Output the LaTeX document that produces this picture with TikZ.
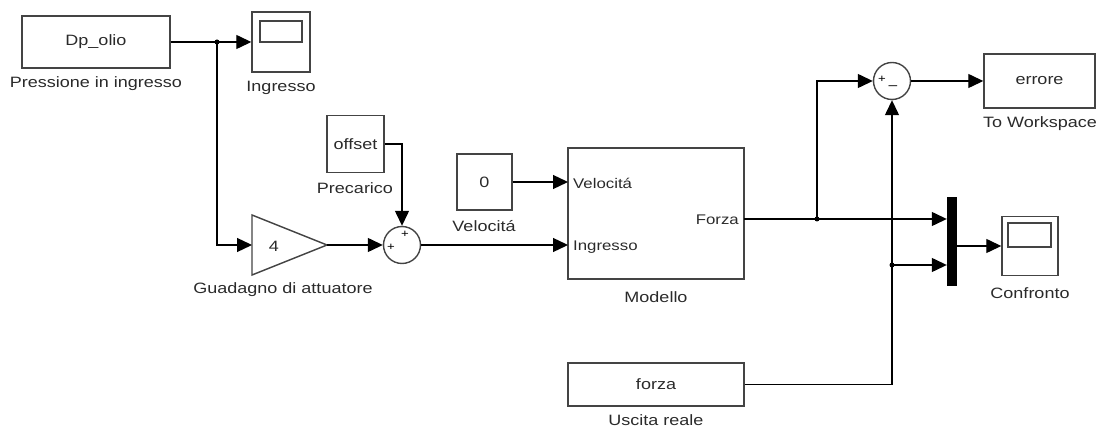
\documentclass[tikz,border=0pt]{standalone}
\usepackage{fontspec}
\setmainfont{Liberation Sans}[FakeStretch=1.2]
\usetikzlibrary{arrows.meta,calc}
\definecolor{txt}{HTML}{2a2a2a}
\definecolor{brd}{HTML}{444444}
\tikzset{
  blk/.style={draw=brd,line width=1.4pt,minimum width=#1,inner sep=0pt,font=\fontsize{15}{17}\selectfont,text=txt},
  lbl/.style={font=\fontsize{15}{17}\selectfont,text=txt,inner sep=0pt},
  port/.style={font=\fontsize{14}{16}\selectfont,text=txt,inner sep=0pt},
  sumc/.style={circle,draw=brd,line width=1.4pt,minimum size=37pt,inner sep=0pt},
  sig/.style={line width=1.3pt,-{Triangle[length=15pt,width=14pt]}},
  dot/.style={circle,fill=black,inner sep=0pt,minimum size=5pt},
}
\begin{document}
\begin{tikzpicture}[x=1pt,y=-1pt]
\useasboundingbox (0,0) rectangle (1104,430);
% blocks
\node[blk=148pt,minimum height=52pt] (dp) at (96,42) {Dp\_olio};
\node[lbl] (dpl) at (96,84) {Pressione in ingresso};
\node[blk=58pt,minimum height=60pt] (sc1) at (281,42) {};
\draw[draw=brd,line width=1.4pt] (260,21) rectangle (302,42);
\node[lbl] (sc1l) at (281,88) {Ingresso};
\draw[draw=brd,line width=1.4pt] (252,215) -- (327,245) -- (252,275) -- cycle;
\coordinate (gin) at (252,245);
\coordinate (gout) at (327,245);
\node[lbl] (gk) at (274,246) {4};
\node[lbl] (gl) at (283,290) {Guadagno di attuatore};
\node[blk=57pt,minimum height=57pt] (off) at (355.5,144) {offset};
\node[lbl] (offl) at (355,188) {Precarico};
\node[sumc] (s1) at (402,245) {};
\node[font=\fontsize{11}{11}\selectfont,inner sep=0pt] (s1a) at (391,247) {+};
\node[font=\fontsize{11}{11}\selectfont,inner sep=0pt] (s1b) at (405,234) {+};
\node[blk=55pt,minimum height=56pt] (c0) at (484.5,182) {0};
\node[lbl] (c0l) at (484,226) {Velocitá};
\node[blk=176pt,minimum height=131pt] (mod) at (656,213.5) {};
\coordinate (mv) at (568,182);
\coordinate (mi) at (568,245);
\coordinate (mo) at (744,219);
\node[port,anchor=west] (pv) at (573,183) {Velocitá};
\node[port,anchor=west] (pi) at (573,247) {Ingresso};
\node[port,anchor=east] (pf) at (739,220) {Forza};
\node[lbl] (modl) at (656,297) {Modello};
\node[sumc] (s2) at (892,81) {};
\node[font=\fontsize{11}{11}\selectfont,inner sep=0pt] (s2a) at (882,79) {+};
\node[font=\fontsize{13}{13}\selectfont,inner sep=0pt] (s2b) at (893,88) {--};
\node[blk=111pt,minimum height=54pt] (err) at (1039.5,81) {errore};
\node[lbl] (errl) at (1040,124) {To Workspace};
\node[fill=black,minimum width=10pt,minimum height=89pt,inner sep=0pt] (mux) at (952,241.5) {};
\node[blk=56pt,minimum height=59pt] (sc2) at (1030,246) {};
\draw[draw=brd,line width=1.4pt] (1008,223) rectangle (1051,247);
\node[lbl] (sc2l) at (1030,293) {Confronto};
\node[blk=176pt,minimum height=43pt] (fz) at (656,384.5) {forza};
\node[lbl] (fzl) at (656,420) {Uscita reale};
% connectors
\node[dot] (b1) at (217,42) {};
\node[dot] (b2) at (817,219) {};
\node[dot] (b3) at (892,265) {};
\draw[sig] (dp.east) -- (sc1.west);
\draw[sig] (b1.center) |- (gin);
\draw[sig] (gout) -- (s1.west);
\draw[sig] (off.east) -| (s1.north);
\draw[sig] (s1.east) -- (mi);
\draw[sig] (c0.east) -- (mv);
\draw[sig] (mo) -- (mux.west |- mo);
\draw[sig] (b2.center) |- (s2.west);
\draw[sig] (s2.east) -- (err.west);
\draw[sig] (fz.east) -| (s2.south);
\draw[sig] (b3.center) -- (mux.west |- b3);
\draw[sig] (mux.east |- sc2.west) -- (sc2.west);
\end{tikzpicture}
\end{document}
